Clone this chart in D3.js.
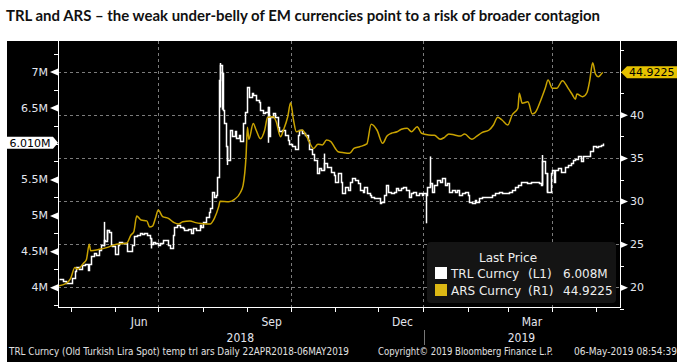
<!DOCTYPE html>
<html>
	<head>
		<meta charset="utf-8">
		<title>TRL and ARS</title>
		<script type="text/javascript" src="https://cdn.jsdelivr.net/npm/d3@7"></script>
		<style type="text/css">
			body{
				margin: 0;
				background: #fff;
			}
			svg{
				display: block;
			}
			.ax text{
				font-family: "DejaVu Sans", sans-serif;
				font-size: 11px;
				fill: #e4e6ee;
			}
		</style>
	</head>
	<body>
	</body>
	<script type="text/javascript">

		// values, days counted from 22 Apr 2018
		const startDate = new Date(2018, 3, 22);

		// ARS Curncy (right axis) [day, price]
		const ars = [
			[0,20.15],[6,20.46],[9,21.0],[12,22.3],[14,22.1],[18,22.8],[20,23.2],[22,25.0],[23,24.25],[29,24.4],
			[34,24.6],[41,25.0],[48,25.1],[51,26.06],[53,26.45],[55,28.27],[58,27.8],[62,27.7],[64,27.0],[66,27.1],
			[68,28.0],[70,28.96],[73,28.2],[77,28.0],[81,27.5],[84,27.34],[87,27.6],[92,27.7],[96,27.5],[100,27.4],
			[106,27.34],[109,28.0],[112,29.35],[113,29.97],[119,29.93],[123,30.2],[127,30.97],[129,31.86],[131,35.15],[132,38.55],
			[133,37.16],[136,39.0],[138,38.24],[141,37.23],[144,38.24],[146,39.71],[150,39.78],[152,39.2],[155,37.46],[157,38.24],
			[160,39.78],[162,41.4],[164,39.4],[166,38.04],[170,38.24],[173,37.54],[178,36.1],[181,36.6],[184,36.5],[187,37.08],
			[190,36.9],[193,36.12],[195,35.72],[199,35.6],[203,35.54],[206,36.1],[210,36.3],[215,36.62],[218,38.9],[222,38.24],
			[226,36.7],[229,37.54],[232,37.86],[236,38.04],[239,38.32],[243,38.44],[246,38.04],[250,38.62],[253,37.86],[258,37.66],
			[262,37.62],[266,37.16],[269,37.39],[272,37.78],[276,37.66],[280,37.54],[283,37.78],[288,37.16],[291,37.46],[295,37.93],
			[300,38.24],[303,38.82],[306,39.71],[309,39.4],[313,38.82],[316,39.98],[320,40.76],[321,42.5],[323,41.34],[327,41.52],
			[330,40.1],[332,40.25],[336,41.72],[339,43.07],[341,44.03],[344,43.07],[347,43.07],[351,43.96],[355,43.07],[358,42.3],
			[360,41.8],[361,42.41],[365,42.1],[368,42.56],[370,44.03],[372,46.04],[374,44.73],[376,44.42],[378,44.73],[379,44.9225]
		];

		// TRL Curncy (left axis, millions) [day, price]
		const trl = [
			[1,4.11],[4,4.09],[6,4.06],[8,4.06],[10,4.13],[12,4.22],[13,4.28],[15,4.25],[17,4.31],[19,4.33],
			[21,4.24],[22,4.33],[23,4.43],[25,4.48],[27,4.45],[29,4.52],[30,4.59],[32,4.66],[33,4.65],[34,4.80],
			[36,4.77],[37,4.59],[38,4.57],[40,4.47],[42,4.59],[43,4.63],[45,4.61],[48,4.50],[50,4.50],[52,4.59],
			[53,4.71],[55,4.73],[57,4.76],[59,4.74],[60,4.76],[62,4.73],[64,4.68],[65,4.60],[66,4.63],[68,4.61],
			[70,4.59],[71,4.61],[73,4.66],[75,4.66],[77,4.59],[78,4.54],[80,4.73],[81,4.84],[83,4.87],[85,4.84],
			[87,4.82],[88,4.80],[91,4.81],[93,4.76],[94,4.82],[96,4.80],[99,4.87],[100,4.84],[101,4.91],[103,4.98],
			[105,5.05],[106,5.10],[107,5.33],[109,5.26],[110,5.28],[111,5.54],[112,6.88],[113,7.09],[114,6.98],[115,6.47],
			[116,6.28],[117,5.96],[118,5.77],[120,6.19],[121,6.10],[123,6.17],[124,6.07],[126,6.12],[127,6.03],[129,6.28],
			[130,6.44],[132,6.79],[133,6.65],[135,6.70],[136,6.68],[138,6.61],[140,6.58],[141,6.47],[143,6.42],[144,6.44],
			[146,6.51],[147,6.10],[148,6.37],[150,6.42],[151,6.37],[153,6.23],[154,6.17],[156,6.19],[158,6.12],[160,6.05],
			[161,6.00],[163,5.96],[165,5.93],[167,6.12],[168,6.19],[170,6.14],[172,6.12],[174,6.05],[175,5.93],[177,5.86],
			[178,5.77],[180,5.59],[182,5.66],[183,5.63],[185,5.73],[187,5.68],[188,5.68],[190,5.61],[192,5.56],[193,5.47],
			[195,5.59],[197,5.47],[198,5.31],[200,5.40],[202,5.35],[203,5.47],[205,5.52],[207,5.49],[209,5.45],[210,5.35],
			[212,5.33],[213,5.40],[215,5.31],[217,5.28],[218,5.26],[220,5.24],[222,5.24],[224,5.17],[225,5.19],[227,5.28],
			[228,5.42],[230,5.33],[232,5.31],[234,5.33],[235,5.38],[237,5.35],[239,5.38],[240,5.40],[242,5.35],[244,5.26],
			[246,5.31],[247,5.33],[249,5.28],[251,5.31],[253,5.28],[254,5.31],[256,5.28],[257,5.40],[259,5.45],[260,5.33],
			[262,5.42],[264,5.49],[266,5.47],[267,5.52],[269,5.42],[271,5.45],[272,5.33],[274,5.35],[276,5.33],[278,5.35],
			[279,5.28],[281,5.31],[283,5.33],[285,5.28],[286,5.19],[288,5.17],[290,5.21],[291,5.19],[293,5.24],[295,5.26],
			[297,5.25],[300,5.26],[302,5.28],[304,5.31],[307,5.32],[309,5.31],[311,5.31],[314,5.33],[316,5.36],[318,5.40],
			[320,5.42],[322,5.47],[324,5.46],[326,5.45],[329,5.46],[331,5.46],[333,5.47],[335,5.45],[336,5.42],[337,5.75],
			[339,5.59],[340,5.32],[342,5.33],[343,5.59],[344,5.63],[345,5.47],[346,5.63],[348,5.66],[350,5.61],[351,5.61],
			[353,5.68],[355,5.70],[357,5.73],[358,5.77],[360,5.79],[362,5.82],[364,5.75],[365,5.82],[367,5.82],[369,5.82],
			[370,5.89],[372,5.97],[374,5.95],[376,5.96],[378,5.98],[379,6.008]
		];

		// intraday high-low bars that stick out of the step line [day, low, high]
		const trlSpikes = [
			[32,4.57,4.91],[34,4.66,4.80],[65,4.54,4.68],[113,6.50,7.12],[114,6.47,7.00],[118,5.70,5.96],
			[146,6.01,6.51],[185,5.63,5.86],[256,4.89,5.31],[259,5.40,5.82],[337,5.42,5.84],[340,5.32,5.59]
		];

		const leftLabels = [4, 4.5, 5, 5.5, 6.5, 7];
		const leftMinor = [3.75, 4, 4.25, 4.5, 4.75, 5, 5.25, 5.5, 5.75, 6, 6.25, 6.5, 6.75, 7, 7.25];
		const rightLabels = [20, 25, 30, 35, 40];
		const rightMinor = [17.5, 20, 22.5, 25, 27.5, 30, 32.5, 35, 37.5, 40, 42.5, 45, 47.5];
		const gridLevels = [20, 25, 30, 35, 40, 45];
		const gridDates = ["2018-07-01", "2018-10-01", "2019-01-01", "2019-04-01"];
		const monthNames = ["Jun", "Sep", "Dec", "Mar"];
		const monthMids = ["2018-06-15", "2018-09-15", "2018-12-15", "2019-03-15"];
		const yearNames = ["2018", "2019"];

		const lastTRL = "6.010M", lastARS = "44.9225";
		const legendRows = [
			["TRL Curncy", "(L1)", "6.008M", "#ffffff"],
			["ARS Curncy", "(R1)", "44.9225", "#dcb814"]
		];

		const w = 684, h = 363;
		const pLeft = 58, pRight = 620, pTop = 41, pBottom = 307;
		const parse = d3.timeParse("%Y-%m-%d");
		const day = function(n){ return d3.timeDay.offset(startDate, n); };

		let x = d3.scaleTime()
				.domain([startDate, new Date(2019, 4, 18)])
				.range([57.6, pRight]);

		let yL = d3.scaleLinear()
				.domain([4, 7])
				.range([287.3, 71.6]);

		let yR = d3.scaleLinear()
				.domain([20, 45])
				.range([287.3, 71.7]);

		let svg = d3.select("body")
					.append("svg")
					.attr("width", w)
					.attr("height", h);

		// title
		svg.append("text")
			.attr("x", 6)
			.attr("y", 21)
			.attr("font-family", "Lato, 'Open Sans', sans-serif")
			.attr("font-weight", "bold")
			.attr("font-size", "15px")
			.attr("textLength", 594)
			.attr("lengthAdjust", "spacingAndGlyphs")
			.attr("fill", "#111")
			.text("TRL and ARS \u2013 the weak under-belly of EM currencies point to a risk of broader contagion");

		// black terminal panel
		svg.append("rect")
			.attr("x", 7)
			.attr("y", pTop)
			.attr("width", 670)
			.attr("height", h - pTop - 1)
			.attr("fill", "#000");

		// dashed grid
		let grid = svg.append("g")
					.attr("stroke", "#7c7c7c")
					.attr("stroke-dasharray", "3,3")
					.attr("shape-rendering", "crispEdges");

			grid.selectAll("line.h")
				.data(gridLevels)
				.enter()
				.append("line")
				.attr("class", "h")
				.attr("x1", pLeft)
				.attr("x2", pRight)
				.attr("y1", function(d){ return Math.round(yR(d)) + 0.5; })
				.attr("y2", function(d){ return Math.round(yR(d)) + 0.5; });

			grid.selectAll("line.v")
				.data(gridDates)
				.enter()
				.append("line")
				.attr("class", "v")
				.attr("x1", function(d){ return Math.round(x(parse(d))) + 0.5; })
				.attr("x2", function(d){ return Math.round(x(parse(d))) + 0.5; })
				.attr("y1", pTop)
				.attr("y2", pBottom);

		// legend box sits over the grid
		let legend = svg.append("g");

			legend.append("rect")
				.attr("x", 427)
				.attr("y", 242)
				.attr("width", 189)
				.attr("height", 61)
				.attr("rx", 4)
				.attr("fill", "#141414");

			legend.append("text")
				.attr("x", 508)
				.attr("y", 262)
				.attr("text-anchor", "middle")
				.attr("font-family", "DejaVu Sans, sans-serif")
				.attr("font-size", "12px")
				.attr("fill", "#eee")
				.text("Last Price");

		let rows = legend.selectAll("g.row")
					.data(legendRows)
					.enter()
					.append("g")
					.attr("class", "row")
					.attr("transform", function(d, i){ return "translate(0," + (i * 17) + ")"; });

			rows.append("rect")
				.attr("x", 435)
				.attr("y", 267)
				.attr("width", 12)
				.attr("height", 12)
				.attr("fill", function(d){ return d[3]; });

			[[0, 451], [1, 528], [2, 563]].forEach(function(c){
				rows.append("text")
					.attr("x", c[1])
					.attr("y", 277.5)
					.attr("font-family", "DejaVu Sans, sans-serif")
					.attr("font-size", "12px")
					.attr("fill", "#eee")
					.text(function(d){ return d[c[0]]; });
			});

		// series, clipped to plot
		svg.append("clipPath")
			.attr("id", "plot")
			.append("rect")
			.attr("x", pLeft)
			.attr("y", pTop)
			.attr("width", pRight - pLeft)
			.attr("height", pBottom - pTop);

		let plot = svg.append("g").attr("clip-path", "url(#plot)");

		let trlLine = d3.line()
					.x(function(d){ return Math.round(x(day(d[0]))) + 0.5; })
					.y(function(d){ return Math.round(yL(d[1])) + 0.5; })
					.curve(d3.curveStepAfter);

			plot.append("path")
				.datum(trl)
				.attr("d", trlLine)
				.attr("fill", "none")
				.attr("stroke", "#fff")
				.attr("stroke-width", 1.5)
				.attr("stroke-linejoin", "miter");

			plot.selectAll("line.spike")
				.data(trlSpikes)
				.enter()
				.append("line")
				.attr("class", "spike")
				.attr("x1", function(d){ return Math.round(x(day(d[0]))) + 0.5; })
				.attr("x2", function(d){ return Math.round(x(day(d[0]))) + 0.5; })
				.attr("y1", function(d){ return yL(d[1]); })
				.attr("y2", function(d){ return yL(d[2]); })
				.attr("stroke", "#fff")
				.attr("stroke-width", 1.5);

		let arsLine = d3.line()
					.x(function(d){ return x(day(d[0])); })
					.y(function(d){ return yR(d[1]); })
					.curve(d3.curveMonotoneX);

			plot.append("path")
				.datum(ars)
				.attr("d", arsLine)
				.attr("fill", "none")
				.attr("stroke", "#c9a300")
				.attr("stroke-width", 1.5)
				.attr("stroke-linejoin", "round");

		// axes
		let frame = svg.append("g")
					.attr("stroke", "#fff")
					.attr("shape-rendering", "crispEdges");

			frame.append("line").attr("x1", pLeft + 0.5).attr("x2", pLeft + 0.5).attr("y1", pTop).attr("y2", pBottom + 1);
			frame.append("line").attr("x1", pRight + 0.5).attr("x2", pRight + 0.5).attr("y1", pTop).attr("y2", pBottom + 1);
			frame.append("line").attr("x1", pLeft).attr("x2", pRight + 1).attr("y1", pBottom + 0.5).attr("y2", pBottom + 0.5);

		const clean = function(g){
			g.select(".domain").remove();
			g.selectAll(".tick line").attr("stroke", "#fff").attr("shape-rendering", "crispEdges");
		};

		svg.append("g")
			.attr("class", "ax")
			.attr("transform", "translate(" + pLeft + ",0)")
			.call(d3.axisLeft(yL).tickValues(leftMinor).tickSize(4).tickFormat(""))
			.call(clean);

		svg.append("g")
			.attr("class", "ax")
			.attr("transform", "translate(" + pRight + ",0)")
			.call(d3.axisRight(yR).tickValues(rightMinor).tickSize(4).tickFormat(""))
			.call(clean);

		svg.append("g")
			.attr("class", "ax")
			.attr("transform", "translate(0," + pBottom + ")")
			.call(d3.axisBottom(x).ticks(d3.timeMonth).tickSize(5).tickFormat(""))
			.call(clean);

		let leftAxis = svg.append("g")
					.attr("class", "ax")
					.attr("transform", "translate(" + pLeft + ",0)")
					.call(d3.axisLeft(yL).tickValues(leftLabels).tickSize(0).tickPadding(10)
						.tickFormat(function(d){ return d + "M"; }))
					.call(clean);

			leftAxis.selectAll(".tick").append("path")
				.attr("d", "M0,-3.5L0,3.5L-8,0Z")
				.attr("fill", "#fff");

		let rightAxis = svg.append("g")
					.attr("class", "ax")
					.attr("transform", "translate(" + pRight + ",0)")
					.call(d3.axisRight(yR).tickValues(rightLabels).tickSize(0).tickPadding(10))
					.call(clean);

			rightAxis.selectAll(".tick").append("path")
				.attr("d", "M0,-3.5L0,3.5L8,0Z")
				.attr("fill", "#fff");

		// month and year labels
		svg.selectAll("text.month")
			.data(monthNames)
			.enter()
			.append("text")
			.attr("class", "month")
			.attr("x", function(d, i){ return x(parse(monthMids[i])) + 4; })
			.attr("y", 326)
			.attr("text-anchor", "middle")
			.attr("font-family", "'DejaVu Sans Condensed', 'DejaVu Sans', sans-serif")
			.attr("font-stretch", "condensed")
			.attr("font-size", "12px")
			.attr("fill", "#e4e6ee")
			.text(function(d){ return d; });

		const yearSplit = x(parse("2019-01-01"));
		const yearMids = [(x(startDate) + yearSplit) / 2, (yearSplit + pRight) / 2];

		svg.selectAll("text.year")
			.data(yearNames)
			.enter()
			.append("text")
			.attr("class", "year")
			.attr("x", function(d, i){ return yearMids[i]; })
			.attr("y", 342)
			.attr("text-anchor", "middle")
			.attr("font-family", "'DejaVu Sans Condensed', 'DejaVu Sans', sans-serif")
			.attr("font-stretch", "condensed")
			.attr("font-size", "12px")
			.attr("fill", "#e4e6ee")
			.text(function(d){ return d; });

		svg.append("line")
			.attr("x1", Math.round(yearSplit) + 1.5)
			.attr("x2", Math.round(yearSplit) + 1.5)
			.attr("y1", 330)
			.attr("y2", 345)
			.attr("stroke", "#777");

		// last value tags
		let yTag = yL(6.010);
		svg.append("path")
			.attr("d", "M7," + (yTag - 6) + "L53," + (yTag - 6) + "L58," + yTag + "L53," + (yTag + 6) + "L7," + (yTag + 6) + "Z")
			.attr("fill", "#fff");
		svg.append("text")
			.attr("x", 30)
			.attr("y", yTag + 4)
			.attr("text-anchor", "middle")
			.attr("font-family", "DejaVu Sans, sans-serif")
			.attr("font-size", "11px")
			.attr("fill", "#000")
			.text(lastTRL);

		let rTag = yR(44.9225);
		svg.append("path")
			.attr("d", "M621," + rTag + "L627," + (rTag - 6) + "L677," + (rTag - 6) + "L677," + (rTag + 6) + "L627," + (rTag + 6) + "Z")
			.attr("fill", "#e6c200");
		svg.append("text")
			.attr("x", 629)
			.attr("y", rTag + 4)
			.attr("font-family", "DejaVu Sans, sans-serif")
			.attr("font-size", "11px")
			.attr("fill", "#000")
			.text(lastARS);

		// footer
		[
			["TRL Curncy (Old Turkish Lira Spot) temp trl ars  Daily 22APR2018-06MAY2019", 9, 340],
			["Copyright\u00a9 2019 Bloomberg Finance L.P.", 378, 175],
			["06-May-2019 08:54:39", 574, 103]
		].forEach(function(f){
			svg.append("text")
				.attr("x", f[1])
				.attr("y", 355)
				.attr("font-family", "'DejaVu Sans Condensed', 'DejaVu Sans', sans-serif")
				.attr("font-size", "10px")
				.attr("textLength", f[2])
				.attr("lengthAdjust", "spacingAndGlyphs")
				.attr("fill", "#e0e0e0")
				.text(f[0]);
		});

	</script>
</html>
